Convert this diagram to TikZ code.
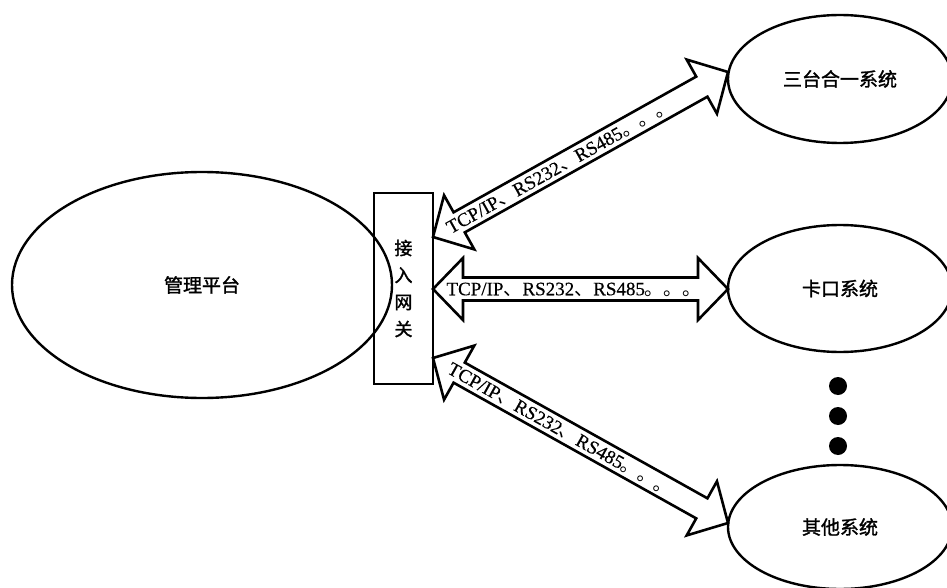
\documentclass[tikz,border=0pt]{standalone}
\usepackage{fontspec}
\setmainfont{Liberation Serif}
\newfontfamily\cjk{Noto Sans CJK SC}
\newfontfamily\cjkb[FakeBold=1.5]{Noto Sans CJK SC}
\newfontfamily\serifb[FakeBold=0.4]{Liberation Serif}
\usetikzlibrary{calc,shapes.geometric}

\newcommand\protolabel{TCP/IP{\cjk 、}RS232{\cjk 、}RS485{\cjk 。。。}}

\newcommand\fatarrow[3]{%
  \coordinate (#3p) at ($(#1)!30pt!(#2)$);
  \coordinate (#3q) at ($(#2)!30pt!(#1)$);
  \draw[fatarr] (#1)
    -- ($(#3p)!31pt!90:(#2)$)
    -- ($(#3p)!11.5pt!90:(#2)$)
    -- ($(#3q)!11.5pt!-90:(#1)$)
    -- ($(#3q)!31pt!-90:(#1)$)
    -- (#2)
    -- ($(#3q)!31pt!90:(#1)$)
    -- ($(#3q)!11.5pt!90:(#1)$)
    -- ($(#3p)!11.5pt!-90:(#2)$)
    -- ($(#3p)!31pt!-90:(#2)$)
    -- cycle;}

\tikzset{
  bubble/.style={draw, ellipse, line width=2.4pt, inner sep=0pt, font=\cjkb\fontsize{19}{19}\selectfont},
  gate/.style={draw, rectangle, line width=2pt, inner sep=0pt, align=center,
               font=\cjkb\fontsize{18}{27}\selectfont},
  fatarr/.style={draw, line width=2.6pt, line join=miter},
  proto/.style={sloped, anchor=west, inner sep=0pt, text height=12.5pt, text depth=0pt,
                font=\serifb\fontsize{19}{19}\selectfont},
  bigdot/.style={circle, fill=black, inner sep=0pt, minimum size=18pt}
}

\begin{document}
\begin{tikzpicture}[x=1pt,y=-1pt]
\useasboundingbox (0,0) rectangle (947,588);

\node[bubble, minimum width=380pt, minimum height=226pt] (mgmt) at (202,285) {管理平台};
\node[gate, minimum width=59pt, minimum height=191pt] (gw) at (403.5,288.5) {接\\入\\网\\关};

\node[bubble, minimum width=224pt, minimum height=128pt] (s1) at (840,79) {三台合一系统};
\node[bubble, minimum width=224pt, minimum height=127pt] (s2) at (840,288.5) {卡口系统};
\node[bubble, minimum width=224pt, minimum height=124pt] (s3) at (840,527) {其他系统};

\node[bigdot] (d1) at (838,386) {};
\node[bigdot] (d2) at (838,416) {};
\node[bigdot] (d3) at (838,446) {};

\coordinate (a1) at (433,237);
\coordinate (b1) at (728,72);
\coordinate (a2) at (433,289);
\coordinate (b2) at (728,289);
\coordinate (a3) at (433,358);
\coordinate (b3) at (728,523);

\fatarrow{a1}{b1}{ar1}
\fatarrow{a2}{b2}{ar2}
\fatarrow{a3}{b3}{ar3}

\path (a1) -- (b1) node[proto, pos=0.05] {\protolabel};
\path (a2) -- (b2) node[proto, pos=0.045] {\protolabel};
\path (a3) -- (b3) node[proto, pos=0.055] {\protolabel};
\end{tikzpicture}
\end{document}
